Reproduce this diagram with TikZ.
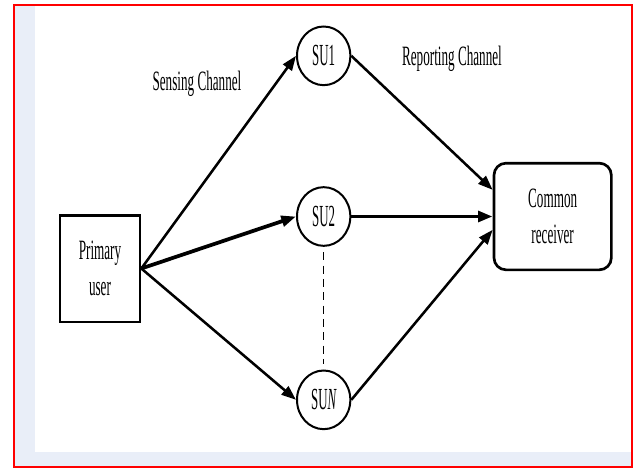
\documentclass[tikz,border=0pt]{standalone}
\usepackage{fontspec}
\usepackage{tikz}
\usetikzlibrary{positioning}
\usetikzlibrary{arrows.meta}
\usetikzlibrary{shapes.geometric}
\newfontfamily\chanfont{Liberation Serif}[FakeStretch=0.47]
\newfontfamily\sufont{Liberation Serif}[FakeStretch=0.42]
\definecolor{bgblue}{HTML}{E9EEF8}

\begin{document}
\begin{tikzpicture}[x=0.75pt, y=-0.75pt,
                    >={Triangle[length=11pt, width=8pt]},
                    squarednode/.style={rectangle, draw, line width=2pt, minimum width=60pt, minimum height=80pt, inner sep=0pt, align=center, font=\chanfont\fontsize{21}{27}\selectfont},
                    roundnode/.style={ellipse, draw, line width=1.5pt, minimum width=40pt, minimum height=44pt, inner sep=0pt, font=\sufont\fontsize{23}{26}\selectfont},
                    roundbox/.style={rectangle, rounded corners=9pt, draw, line width=2pt, minimum width=88pt, minimum height=80pt, inner sep=0pt, align=center, font=\chanfont\fontsize{21}{27}\selectfont},
                    chanlabel/.style={font=\chanfont\fontsize{21}{27}\selectfont}
                   ]
\useasboundingbox (0,0) rectangle (636,468);
%Background
\fill[white] (0,0) rectangle (636,468);
\fill[bgblue] (14,5) rectangle (632,466);
\fill[white] (35,5) rectangle (632,452);
\draw[red, line width=1.5pt] (13.5,4.5) rectangle (632,466.5);
%Nodes
\node[squarednode] (pu)  at (100,268.5)   {Primary\\user};
\node[roundnode]   (su2) [right=116pt of pu, yshift=39pt] {SU2};
\node[roundnode]   (su1) [above=75pt of su2] {SU1};
\node[roundnode]   (suN) [below=92pt of su2] {SU{\itshape N}};
\node[roundbox]    (cr)  [right=106pt of su2] {Common\\receiver};
\node[chanlabel]   (sc)  at (197,84)      {Sensing Channel};
\node[chanlabel]   (rc)  at (452,59)      {Reporting Channel};
% %Lines
\draw[->, line width=1.9pt] (pu.east) -- (su1.west);
\draw[->, line width=2.8pt] (pu.east) -- (su2.west);
\draw[->, line width=1.9pt] (pu.east) -- (suN.west);

\draw[->, line width=1.9pt] (su1.east) -- ([yshift=20pt]cr.west);
\draw[->, line width=2.8pt] (su2.east) -- (cr.west);
\draw[->, line width=1.9pt] (suN.east) -- ([yshift=-10pt]cr.west);

\draw[dashed, line width=0.75pt, dash pattern=on 6pt off 4pt, shorten <=4pt, shorten >=4pt] (su2.south) -- (suN.north);
\end{tikzpicture}
\end{document}
